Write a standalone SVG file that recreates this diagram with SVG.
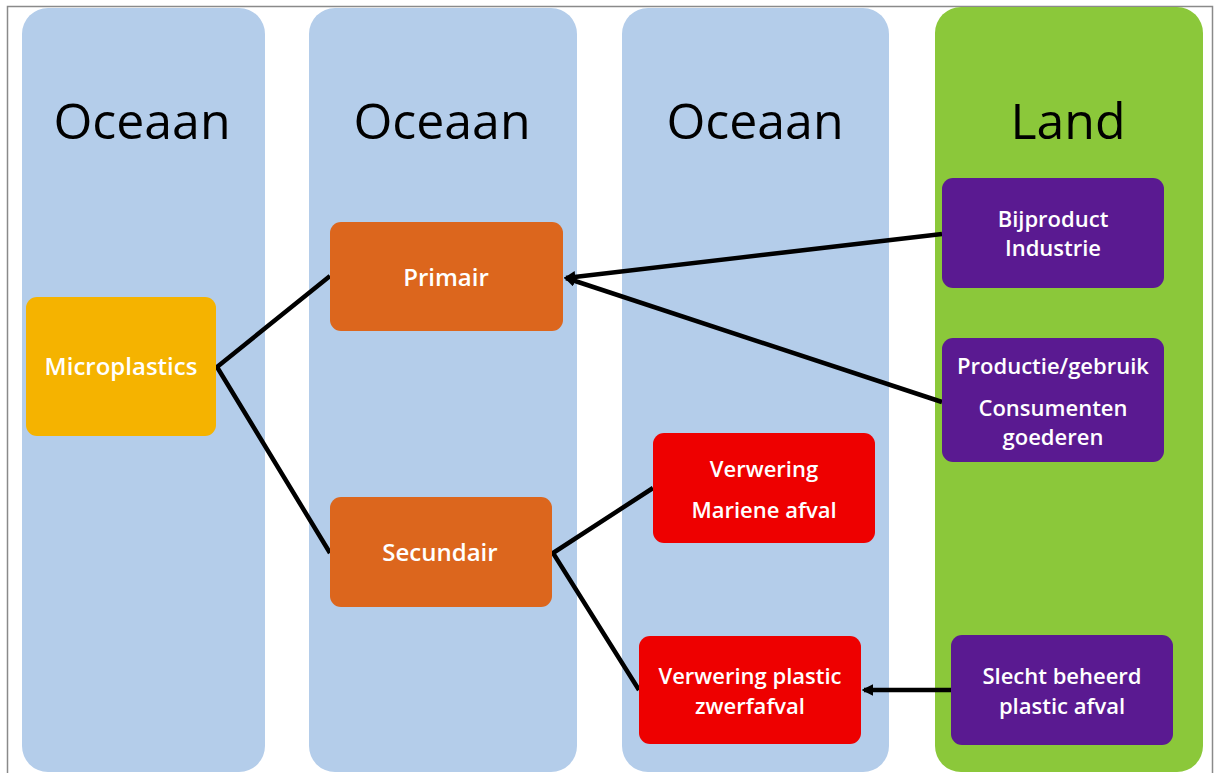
<svg xmlns="http://www.w3.org/2000/svg" width="1219" height="773" viewBox="0 0 1219 773">
<defs>
<style>
.col{fill:#B4CDEA}
.land{fill:#8BC83A}
.head{font-family:"Open Sans",sans-serif;font-size:50px;fill:#000;text-anchor:middle}
.lbl{font-family:"Open Sans",sans-serif;font-weight:600;font-size:24px;fill:#fff;text-anchor:middle}
.sm{font-size:22px}
.orange{fill:#DC661D}
.amber{fill:#F5B300}
.red{fill:#EE0000}
.purple{fill:#5A1A91}
.conn{stroke:#000;stroke-width:4.5;fill:none;stroke-linejoin:miter;stroke-miterlimit:10}
</style>
<marker id="ah" viewBox="0 0 10 10" refX="8" refY="5" markerWidth="2.6" markerHeight="2.6" orient="auto" markerUnits="strokeWidth">
<path d="M0,0 L10,5 L0,10 z" fill="#000"/>
</marker>
</defs>
<rect x="0" y="0" width="1219" height="773" fill="#fff"/>
<rect x="7.5" y="6.5" width="1205" height="780" fill="none" stroke="#8a8a8a" stroke-width="1.5"/>
<g id="col-oceaan-1">
<rect class="col" x="22" y="8" width="243" height="764" rx="26"/>
<text class="head" x="142" y="139">Oceaan</text>
</g>
<g id="col-oceaan-2">
<rect class="col" x="309" y="8" width="268" height="764" rx="26"/>
<text class="head" x="442" y="139">Oceaan</text>
</g>
<g id="col-oceaan-3">
<rect class="col" x="622" y="8" width="267" height="764" rx="26"/>
<text class="head" x="755" y="139">Oceaan</text>
</g>
<g id="col-land">
<rect class="land" x="935" y="7" width="268" height="765" rx="26"/>
<text class="head" x="1068" y="139">Land</text>
</g>
<g id="connectors">
<polyline class="conn" points="330,276 217,367 330,553"/>
<polyline class="conn" points="653,488 553,553 639,690"/>
<line class="conn" x1="942" y1="234" x2="566" y2="278" marker-end="url(#ah)"/>
<line class="conn" x1="942" y1="402" x2="566" y2="278" marker-end="url(#ah)"/>
<line class="conn" x1="951" y1="690" x2="864" y2="690" marker-end="url(#ah)"/>
</g>
<g id="node-microplastics">
<rect class="amber" x="26" y="297" width="190" height="139" rx="11"/>
<text class="lbl" x="121" y="375">Microplastics</text>
</g>
<g id="node-primair">
<rect class="orange" x="330" y="222" width="233" height="109" rx="11"/>
<text class="lbl" x="446" y="286">Primair</text>
</g>
<g id="node-secundair">
<rect class="orange" x="330" y="497" width="222" height="110" rx="11"/>
<text class="lbl" x="440" y="561">Secundair</text>
</g>
<g id="node-verwering-mariene">
<rect class="red" x="653" y="433" width="222" height="110" rx="11"/>
<text class="lbl sm" x="764" y="477">Verwering</text>
<text class="lbl sm" x="764" y="518">Mariene afval</text>
</g>
<g id="node-verwering-plastic">
<rect class="red" x="639" y="636" width="222" height="108" rx="11"/>
<text class="lbl sm" x="750" y="684">Verwering plastic</text>
<text class="lbl sm" x="750" y="714">zwerfafval</text>
</g>
<g id="node-bijproduct">
<rect class="purple" x="942" y="178" width="222" height="110" rx="11"/>
<text class="lbl sm" x="1053" y="227">Bijproduct</text>
<text class="lbl sm" x="1053" y="256">Industrie</text>
</g>
<g id="node-productie">
<rect class="purple" x="942" y="338" width="222" height="124" rx="11"/>
<text class="lbl sm" x="1053" y="374">Productie/gebruik</text>
<text class="lbl sm" x="1053" y="416">Consumenten</text>
<text class="lbl sm" x="1053" y="445">goederen</text>
</g>
<g id="node-slecht">
<rect class="purple" x="951" y="635" width="222" height="110" rx="11"/>
<text class="lbl sm" x="1062" y="684">Slecht beheerd</text>
<text class="lbl sm" x="1062" y="714">plastic afval</text>
</g>
</svg>
